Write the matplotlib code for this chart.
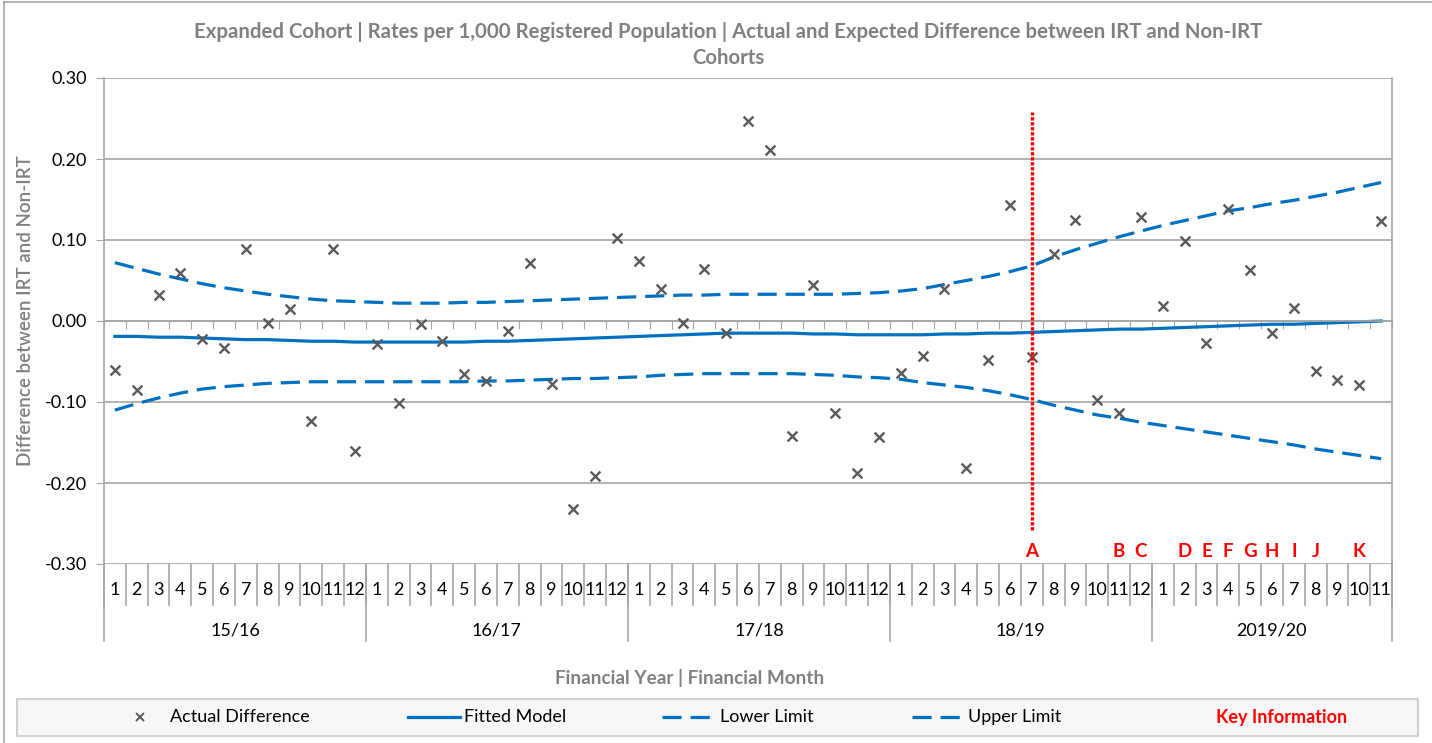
import numpy as np
import matplotlib
matplotlib.use('Agg')
import matplotlib.pyplot as plt
from matplotlib.lines import Line2D
from matplotlib.patches import Rectangle

plt.rcParams['font.family'] = ['Lato', 'DejaVu Sans']

# Financial years and months shown on the category axis
YEARS = ['15/16', '16/17', '17/18', '18/19', '2019/20']
MONTHS_PER_YEAR = [12, 12, 12, 12, 11]

# Actual difference between IRT and Non-IRT, one value per month
actual = [-0.060, -0.085, 0.032, 0.059, -0.022, -0.033, 0.089, -0.003, 0.015, -0.124, 0.089, -0.160,
          -0.028, -0.101, -0.004, -0.025, -0.065, -0.074, -0.012, 0.072, -0.078, -0.232, -0.191, 0.102,
          0.074, 0.040, -0.002, 0.064, -0.015, 0.247, 0.211, -0.142, 0.044, -0.114, -0.188, -0.143,
          -0.064, -0.043, 0.040, -0.181, -0.048, 0.143, -0.045, 0.083, 0.125, -0.098, -0.114, 0.128,
          0.018, 0.099, -0.027, 0.138, 0.063, -0.015, 0.016, -0.062, -0.073, -0.079, 0.124]

fitted = [-0.019, -0.019, -0.020, -0.020, -0.021, -0.022, -0.023, -0.023, -0.024, -0.025, -0.025, -0.026,
          -0.026, -0.026, -0.026, -0.026, -0.026, -0.025, -0.025, -0.024, -0.023, -0.022, -0.021, -0.020,
          -0.019, -0.018, -0.017, -0.016, -0.015, -0.015, -0.015, -0.015, -0.016, -0.016, -0.017, -0.017,
          -0.017, -0.017, -0.016, -0.016, -0.015, -0.015, -0.014, -0.013, -0.012, -0.011, -0.010, -0.010,
          -0.009, -0.008, -0.007, -0.006, -0.005, -0.004, -0.004, -0.003, -0.002, -0.001, 0.000]

upper = [0.072, 0.065, 0.058, 0.052, 0.046, 0.041, 0.037, 0.033, 0.030, 0.027, 0.025, 0.024,
         0.023, 0.022, 0.022, 0.022, 0.023, 0.023, 0.024, 0.025, 0.026, 0.027, 0.028, 0.029,
         0.030, 0.031, 0.032, 0.032, 0.033, 0.033, 0.033, 0.033, 0.033, 0.033, 0.034, 0.035,
         0.037, 0.040, 0.045, 0.050, 0.055, 0.061, 0.068, 0.079, 0.088, 0.096, 0.104, 0.111,
         0.118, 0.124, 0.130, 0.136, 0.140, 0.145, 0.149, 0.154, 0.159, 0.165, 0.171]

lower = [-0.110, -0.102, -0.095, -0.089, -0.084, -0.081, -0.079, -0.077, -0.076, -0.075, -0.075, -0.075,
         -0.075, -0.075, -0.075, -0.075, -0.075, -0.074, -0.074, -0.073, -0.072, -0.071, -0.071, -0.070,
         -0.069, -0.067, -0.066, -0.065, -0.065, -0.065, -0.065, -0.065, -0.066, -0.067, -0.069, -0.070,
         -0.072, -0.076, -0.079, -0.082, -0.086, -0.091, -0.097, -0.104, -0.110, -0.116, -0.120, -0.125,
         -0.129, -0.133, -0.137, -0.141, -0.145, -0.149, -0.153, -0.158, -0.162, -0.166, -0.170]

# Key information markers: letter and month index
key_letters = ['A', 'B', 'C', 'D', 'E', 'F', 'G', 'H', 'I', 'J', 'K']
key_index = [42, 46, 47, 49, 50, 51, 52, 53, 54, 55, 57]
key_line_index = 42
key_line_range = (-0.258, 0.258)
key_label_y = -0.284

BLUE = '#0070C0'
GREY_TXT = '#808080'
GRID = '#a6a6a6'

month_labels = []
for n in MONTHS_PER_YEAR:
    month_labels += [str(m) for m in range(1, n + 1)]
x = np.arange(len(month_labels))

W, H = 1432, 743
fig = plt.figure(figsize=(W / 100, H / 100), dpi=100)
ax = fig.add_axes([104 / W, 1 - 564 / H, (1392 - 104) / W, (564 - 78) / H])

ax.set_xlim(-0.5, len(x) - 0.5)
ax.set_ylim(-0.30, 0.30)
ax.set_yticks(np.arange(-0.30, 0.301, 0.10))
ax.set_yticklabels(['%.2f' % v for v in np.arange(-0.30, 0.301, 0.10)], fontsize=13)
ax.yaxis.grid(True, color=GRID, lw=1.2)
ax.set_axisbelow(True)
ax.tick_params(axis='y', length=6, color=GRID, pad=6)

# horizontal axis crosses at zero with tick marks at category boundaries
ax.spines['bottom'].set_position(('data', 0))
ax.spines['bottom'].set_color(GRID)
ax.spines['top'].set_visible(False)
ax.spines['left'].set_color(GRID)
ax.spines['right'].set_color(GRID)
for s in ax.spines.values():
    s.set_linewidth(1.2)
ax.set_xticks(np.arange(-0.5, len(x), 1.0))
ax.tick_params(axis='x', length=6, color=GRID, direction='out', labelbottom=False)

ax.plot(x, upper, color=BLUE, lw=2.3, dashes=(6, 2.8))
ax.plot(x, lower, color=BLUE, lw=2.3, dashes=(6, 2.8))
ax.plot(x, fitted, color=BLUE, lw=2.3)
ax.scatter(x, actual, marker='x', s=50, color='#595959', linewidths=1.7, zorder=4)

ax.vlines(key_line_index, key_line_range[0], key_line_range[1], color='red', lw=2.4,
          linestyles=(0, (1.0, 0.5)), zorder=5)
for letter, idx in zip(key_letters, key_index):
    ax.text(idx, key_label_y, letter, color='red', fontsize=13.5, fontweight='bold',
            ha='center', va='center')

# multi-level category labels below the plot
tr = ax.get_xaxis_transform()
row1_bot = (564 - 605) / 486
row2_bot = (564 - 641) / 486
for i, lab in enumerate(month_labels):
    ax.text(i, (564 - 590) / 486, lab, transform=tr, ha='center', va='center', fontsize=13)
for b in np.arange(-0.5, len(x), 1.0):
    ax.add_line(Line2D([b, b], [0, row1_bot], transform=tr, color=GRID, lw=1.2, clip_on=False))
start = 0
for yr, n in zip(YEARS, MONTHS_PER_YEAR):
    ax.add_line(Line2D([start - 0.5, start - 0.5], [0, row2_bot], transform=tr, color=GRID, lw=1.2,
                       clip_on=False))
    ax.text(start + (n - 1) / 2, (564 - 630) / 486, yr, transform=tr, ha='center', va='center',
            fontsize=13)
    start += n
ax.add_line(Line2D([start - 0.5, start - 0.5], [0, row2_bot], transform=tr, color=GRID, lw=1.2,
                   clip_on=False))

# titles
fig.text(728 / W, 1 - 32 / H, 'Expanded Cohort | Rates per 1,000 Registered Population | Actual and '
         'Expected Difference between IRT and Non-IRT', ha='center', va='center', fontsize=14.7,
         fontweight='bold', color=GREY_TXT)
fig.text(728 / W, 1 - 58 / H, 'Cohorts', ha='center', va='center', fontsize=14.7,
         fontweight='bold', color=GREY_TXT)
fig.text(26 / W, 1 - 311 / H, 'Difference between IRT and Non-IRT', rotation=90, ha='center',
         va='center', fontsize=13.5, fontweight='semibold', color=GREY_TXT)
fig.text(690 / W, 1 - 678 / H, 'Financial Year | Financial Month', ha='center', va='center',
         fontsize=13.6, fontweight='bold', color=GREY_TXT)

# outer chart border
fig.add_artist(Line2D([4 / W, 4 / W], [0, 1 - 2 / H], color='#a6a6a6', lw=1.2))
fig.add_artist(Line2D([4 / W, 1], [1 - 2 / H, 1 - 2 / H], color='#a6a6a6', lw=1.2))

# legend box
fig.add_artist(Rectangle((17 / W, 1 - 736 / H), (1418 - 17) / W, 37 / H, facecolor='#f7f7f7',
                         edgecolor='#d0d0d0', lw=1.5))
ly = 1 - 717 / H
fig.add_artist(Line2D([140 / W], [ly], marker='x', ls='none', color='#595959', ms=6, mew=1.4))
fig.add_artist(Line2D([408 / W, 460 / W], [ly, ly], color=BLUE, lw=2.3))
fig.add_artist(Line2D([662 / W, 717 / W], [ly, ly], color=BLUE, lw=2.3, dashes=(6, 2.8)))
fig.add_artist(Line2D([912 / W, 965 / W], [ly, ly], color=BLUE, lw=2.3, dashes=(6, 2.8)))
for xp, lab in [(170, 'Actual Difference'), (464, 'Fitted Model'), (720, 'Lower Limit'),
                (968, 'Upper Limit')]:
    fig.text(xp / W, ly, lab, ha='left', va='center', fontsize=13)
fig.text(1282 / W, ly, 'Key Information', ha='center', va='center', fontsize=13,
         fontweight='bold', color='red')

fig.savefig('out.png', dpi=100)
plt.close(fig)
